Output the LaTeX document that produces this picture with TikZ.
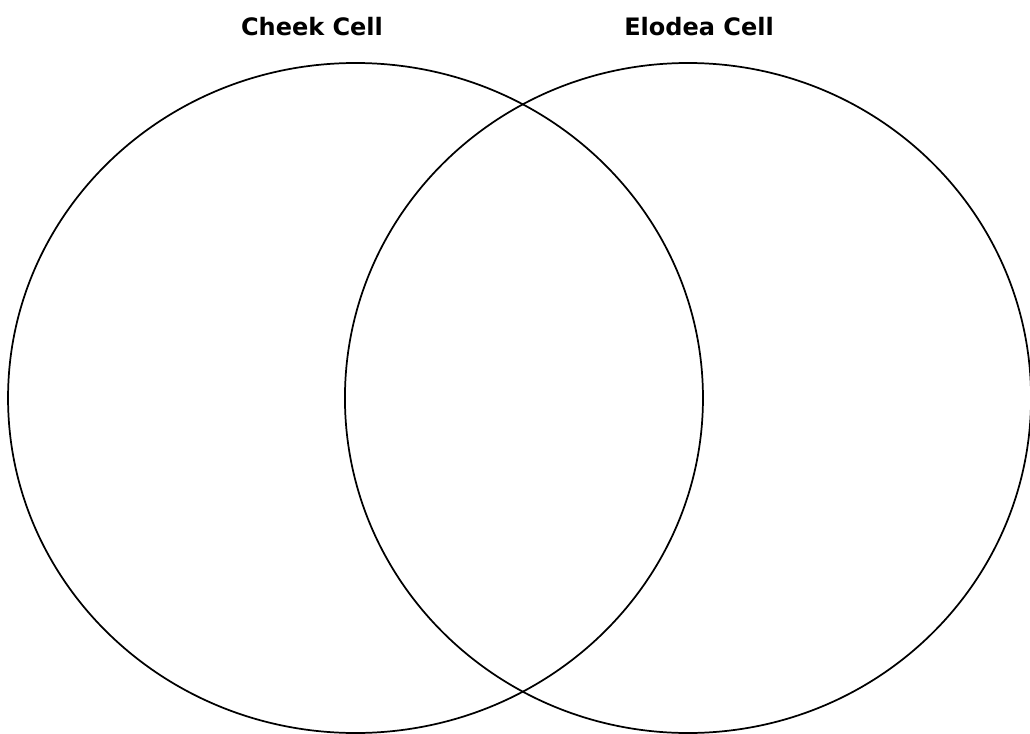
\documentclass[tikz,border=0pt]{standalone}
\usepackage{fontspec}
\setmainfont{DejaVu Sans}
\usepackage{tikz}
\usetikzlibrary{positioning}

\begin{document}
\begin{tikzpicture}[x=0.75pt, y=-0.75pt, every node/.style={font=\bfseries\fontsize{18}{21}\selectfont},
    setline/.style={black, line width=1.3pt}]
      \useasboundingbox (0,0) rectangle (1030,734);

      % the two sets
      \draw[setline] (355.5,398) ellipse [x radius=260.6pt, y radius=251.25pt];
      \draw[setline] (688,398) ellipse [x radius=257.3pt, y radius=251.25pt];

      \node (cheek) at (312,27) {Cheek Cell};
      \node (elodea) at (699,27) {Elodea Cell};
    \end{tikzpicture}
\end{document}
